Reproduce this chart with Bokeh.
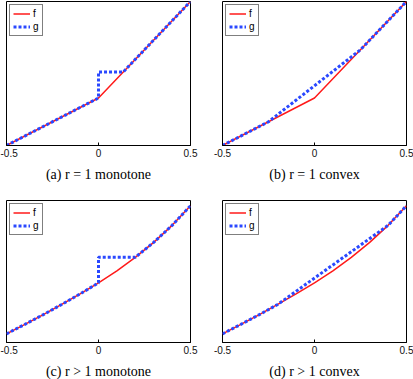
from bokeh.plotting import figure
from bokeh.layouts import column, row
from bokeh.models import Range1d, FixedTicker
from bokeh.embed import file_html
from bokeh.resources import INLINE

# ---- data ----
x_ticks = [-0.5, 0.0, 0.5]
x_tick_labels = ["-0.5", "0", "0.5"]

# r = 1 (piecewise linear f)
f1_x = [-0.5, 0.0, 0.5]
f1_y = [0.0, 0.33, 1.0]
g_mono1_x = [-0.5, 0.0, 0.0, 0.134, 0.5]
g_mono1_y = [0.0, 0.33, 0.51, 0.51, 1.0]
g_conv1_x = [-0.5, -0.25, 0.25, 0.5]
g_conv1_y = [0.0, 0.165, 0.665, 1.0]

# r > 1 (curved f)
f2_x = [-0.5, -0.4, -0.3, -0.2, -0.1, 0.0, 0.1, 0.2, 0.3, 0.4, 0.5]
f2_y = [0.061, 0.128, 0.196, 0.268, 0.342, 0.42, 0.505, 0.60, 0.705, 0.825, 0.963]
g_mono2_x = [-0.5, -0.4, -0.3, -0.2, -0.1, 0.0, 0.0, 0.2, 0.3, 0.4, 0.5]
g_mono2_y = [0.061, 0.128, 0.196, 0.268, 0.342, 0.42, 0.60, 0.60, 0.705, 0.825, 0.963]
g_conv2_x = [-0.5, -0.4, -0.3, -0.2, 0.4, 0.5]
g_conv2_y = [0.061, 0.128, 0.196, 0.268, 0.825, 0.963]

captions = ["(a) r = 1 monotone", "(b) r = 1 convex",
            "(c) r > 1 monotone", "(d) r > 1 convex"]
legend_labels = ["f", "g"]

RED = "#ff1a1a"
BLUE = "#2a48ff"


def panel(fx, fy, gx, gy, caption, left, right, top, bottom, fh):
    p = figure(frame_width=184, frame_height=fh,
               min_border_left=left, min_border_right=right,
               min_border_top=top, min_border_bottom=bottom,
               x_range=Range1d(-0.5, 0.5), y_range=Range1d(0, 1),
               output_backend="svg", toolbar_location=None,
               y_axis_location=None, title=caption, title_location="below")
    p.line(fx, fy, color=RED, line_width=1.5, legend_label=legend_labels[0])
    p.line(gx, gy, color=BLUE, line_width=3, line_dash="3 2",
           legend_label=legend_labels[1])
    p.grid.visible = False
    p.outline_line_color = "black"
    p.outline_line_alpha = 1
    p.outline_line_width = 1
    p.background_fill_color = "white"
    p.border_fill_color = "white"

    ax = p.xaxis[0]
    ax.ticker = FixedTicker(ticks=x_ticks)
    ax.major_label_overrides = {t: l for t, l in zip(x_ticks, x_tick_labels)}
    ax.minor_tick_line_color = None
    ax.major_tick_in = 3
    ax.major_tick_out = 0
    ax.major_label_standoff = 3
    ax.major_label_text_font = "Liberation Sans"
    ax.major_label_text_font_size = "10px"
    ax.major_label_text_color = "#111111"
    ax.axis_line_color = "black"
    ax.major_tick_line_color = "black"

    p.title.align = "center"
    p.title.text_font = "Liberation Serif"
    p.title.text_font_style = "normal"
    p.title.text_font_size = "14px"
    p.title.text_color = "black"
    p.title.standoff = 11

    lg = p.legend[0]
    lg.location = "top_left"
    lg.margin = 3
    lg.padding = 3
    lg.spacing = 2
    lg.glyph_width = 17
    lg.glyph_height = 11
    lg.label_height = 11
    lg.label_width = 5
    lg.label_standoff = 3
    lg.label_text_font = "Liberation Sans"
    lg.label_text_font_size = "10px"
    lg.label_text_color = "black"
    lg.border_line_color = "black"
    lg.border_line_width = 1
    lg.background_fill_color = "white"
    lg.background_fill_alpha = 1
    return p


pa = panel(f1_x, f1_y, g_mono1_x, g_mono1_y, captions[0], 6, 16, 1, 45, 144)
pb = panel(f1_x, f1_y, g_conv1_x, g_conv1_y, captions[1], 16, 7, 1, 45, 144)
pc = panel(f2_x, f2_y, g_mono2_x, g_mono2_y, captions[2], 6, 16, 10, 37, 142)
pd = panel(f2_x, f2_y, g_conv2_x, g_conv2_y, captions[3], 16, 7, 10, 37, 142)

layout = column(row(pa, pb), row(pc, pd))

open("out.html", "w").write(file_html(layout, INLINE))
